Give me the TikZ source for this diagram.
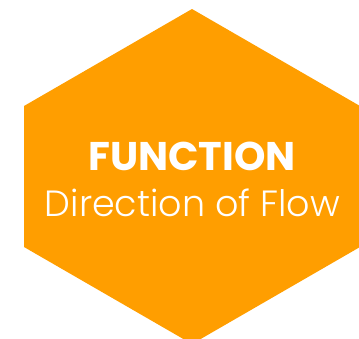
\documentclass[tikz,border=0pt]{standalone}
\usepackage{fontspec}
\setmainfont{Poppins}
\newfontfamily\lightfont{Poppins}[UprightFont=* Light]
\usepackage{xcolor}
\definecolor{hexorange}{RGB}{255,158,0}
\usetikzlibrary{positioning}

\begin{document}
\begin{tikzpicture}[x=1pt,
			y=-1pt,
			title/.style={anchor=base, text=white, font=\fontsize{40}{44}\selectfont\bfseries, inner sep=0pt},
			subtitle/.style={anchor=base, text=white, font=\lightfont\fontsize{36.5}{40}\selectfont, inner sep=0pt}]
			
			\useasboundingbox (0,0) rectangle (359,338);
			\clip (0,0) rectangle (359,338);
			\fill[hexorange] (192,9) -- (360,106) -- (360,247) -- (192,344) -- (24,247) -- (24,106) -- cycle;
			\node[title] (func) at (192,170) {FUNCTION};
			\node[subtitle] (flow) at (192.5,216) {Direction of Flow};
		\end{tikzpicture}
\end{document}
